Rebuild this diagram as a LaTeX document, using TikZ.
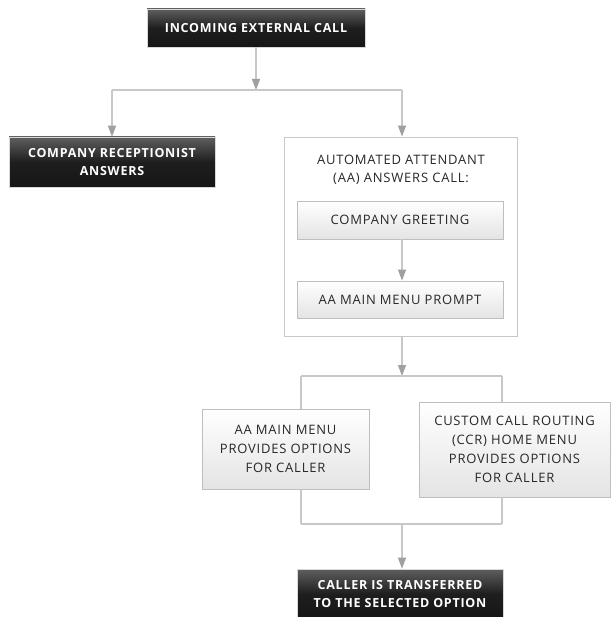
\documentclass[tikz,border=0pt]{standalone}
\usepackage{fontspec}
\setmainfont{Open Sans}[LetterSpace=6]
\usetikzlibrary{arrows.meta,positioning}
\definecolor{linegray}{RGB}{200,200,200}
\definecolor{arrowgray}{RGB}{160,160,160}
\definecolor{boxborder}{RGB}{190,190,190}
\definecolor{darktop}{RGB}{95,95,95}
\definecolor{darkmid}{RGB}{30,30,30}
\definecolor{darkbot}{RGB}{22,22,22}
\definecolor{lightbot}{RGB}{228,228,228}
\definecolor{txtgray}{RGB}{40,40,40}
\begin{document}
\begin{tikzpicture}[x=1pt,y=-1pt,
  darkbox/.style={rectangle, draw=boxborder!60!white, line width=0.6pt,
    top color=darktop, bottom color=darkbot, middle color=darkmid,
    text=white, font=\bfseries\fontsize{12.5}{17.5}\selectfont, align=center, inner sep=0pt},
  lightbox/.style={rectangle, draw=boxborder, line width=0.8pt,
    top color=white, bottom color=lightbot,
    text=txtgray, font=\fontsize{13}{19}\selectfont, align=center, inner sep=0pt},
  outerbox/.style={rectangle, draw=linegray, line width=0.9pt, fill=white, inner sep=0pt},
  conn/.style={draw=linegray, line width=1.1pt},
  arr/.style={draw=linegray, line width=1.1pt, -{Triangle[length=11pt,width=8pt,color=arrowgray]}},
  titletext/.style={text=txtgray, font=\fontsize{13}{17.5}\selectfont, align=center}
]
\useasboundingbox (0,0) rectangle (610,617);
\fill[white] (0,0) rectangle (610,617);

% nodes
\node[darkbox, minimum width=218pt, minimum height=38pt] (top) at (256,28) {INCOMING EXTERNAL CALL};
\node[darkbox, minimum width=206pt, minimum height=50pt] (recep) at (112,162) {COMPANY RECEPTIONIST\\ANSWERS};
\node[outerbox, minimum width=233pt, minimum height=199pt] (aa) at (401,236.5) {};
\node[titletext] (aatitle) at (401,170) {AUTOMATED ATTENDANT\\(AA) ANSWERS CALL:};
\node[lightbox, minimum width=206pt, minimum height=38pt] (greet) at (400,220) {COMPANY GREETING};
\node[lightbox, minimum width=206pt, minimum height=37pt] (prompt) at (400,299.5) {AA MAIN MENU PROMPT};
\node[lightbox, minimum width=167pt, minimum height=80pt] (aamenu) at (285.5,449) {AA MAIN MENU\\PROVIDES OPTIONS\\FOR CALLER};
\node[lightbox, minimum width=191pt, minimum height=95pt] (ccr) at (514.5,449.5) {CUSTOM CALL ROUTING\\(CCR) HOME MENU\\PROVIDES OPTIONS\\FOR CALLER};
\node[darkbox, minimum width=206pt, minimum height=50pt] (final) at (400,594) {CALLER IS TRANSFERRED\\TO THE SELECTED OPTION};

% coordinates
\coordinate (s1) at (256,90);
\coordinate (s1l) at (112,90);
\coordinate (s1r) at (402,90);
\coordinate (s2) at (402,376);
\coordinate (s2l) at (301,376);
\coordinate (s2r) at (502,376);
\coordinate (j) at (402,524);
\coordinate (jl) at (301,524);
\coordinate (jr) at (502,524);

% connectors
\draw[arr] (top.south -| s1) -- (s1);
\draw[conn] (s1l) -- (s1r);
\draw[arr] (s1l) -- (recep.north -| s1l);
\draw[arr] (s1r) -- (aa.north -| s1r);
\draw[arr] (aa.south -| s2) -- (s2);
\draw[conn] (s2l) -- (s2r);
\draw[conn] (s2l) -- (aamenu.north -| s2l);
\draw[conn] (s2r) -- (ccr.north -| s2r);
\draw[arr] (greet.south -| s2) -- (prompt.north -| s2);
\draw[conn] (aamenu.south -| jl) -- (jl);
\draw[conn] (ccr.south -| jr) -- (jr);
\draw[conn] (jl) -- (jr);
\draw[arr] (j) -- (final.north -| j);
\end{tikzpicture}
\end{document}
